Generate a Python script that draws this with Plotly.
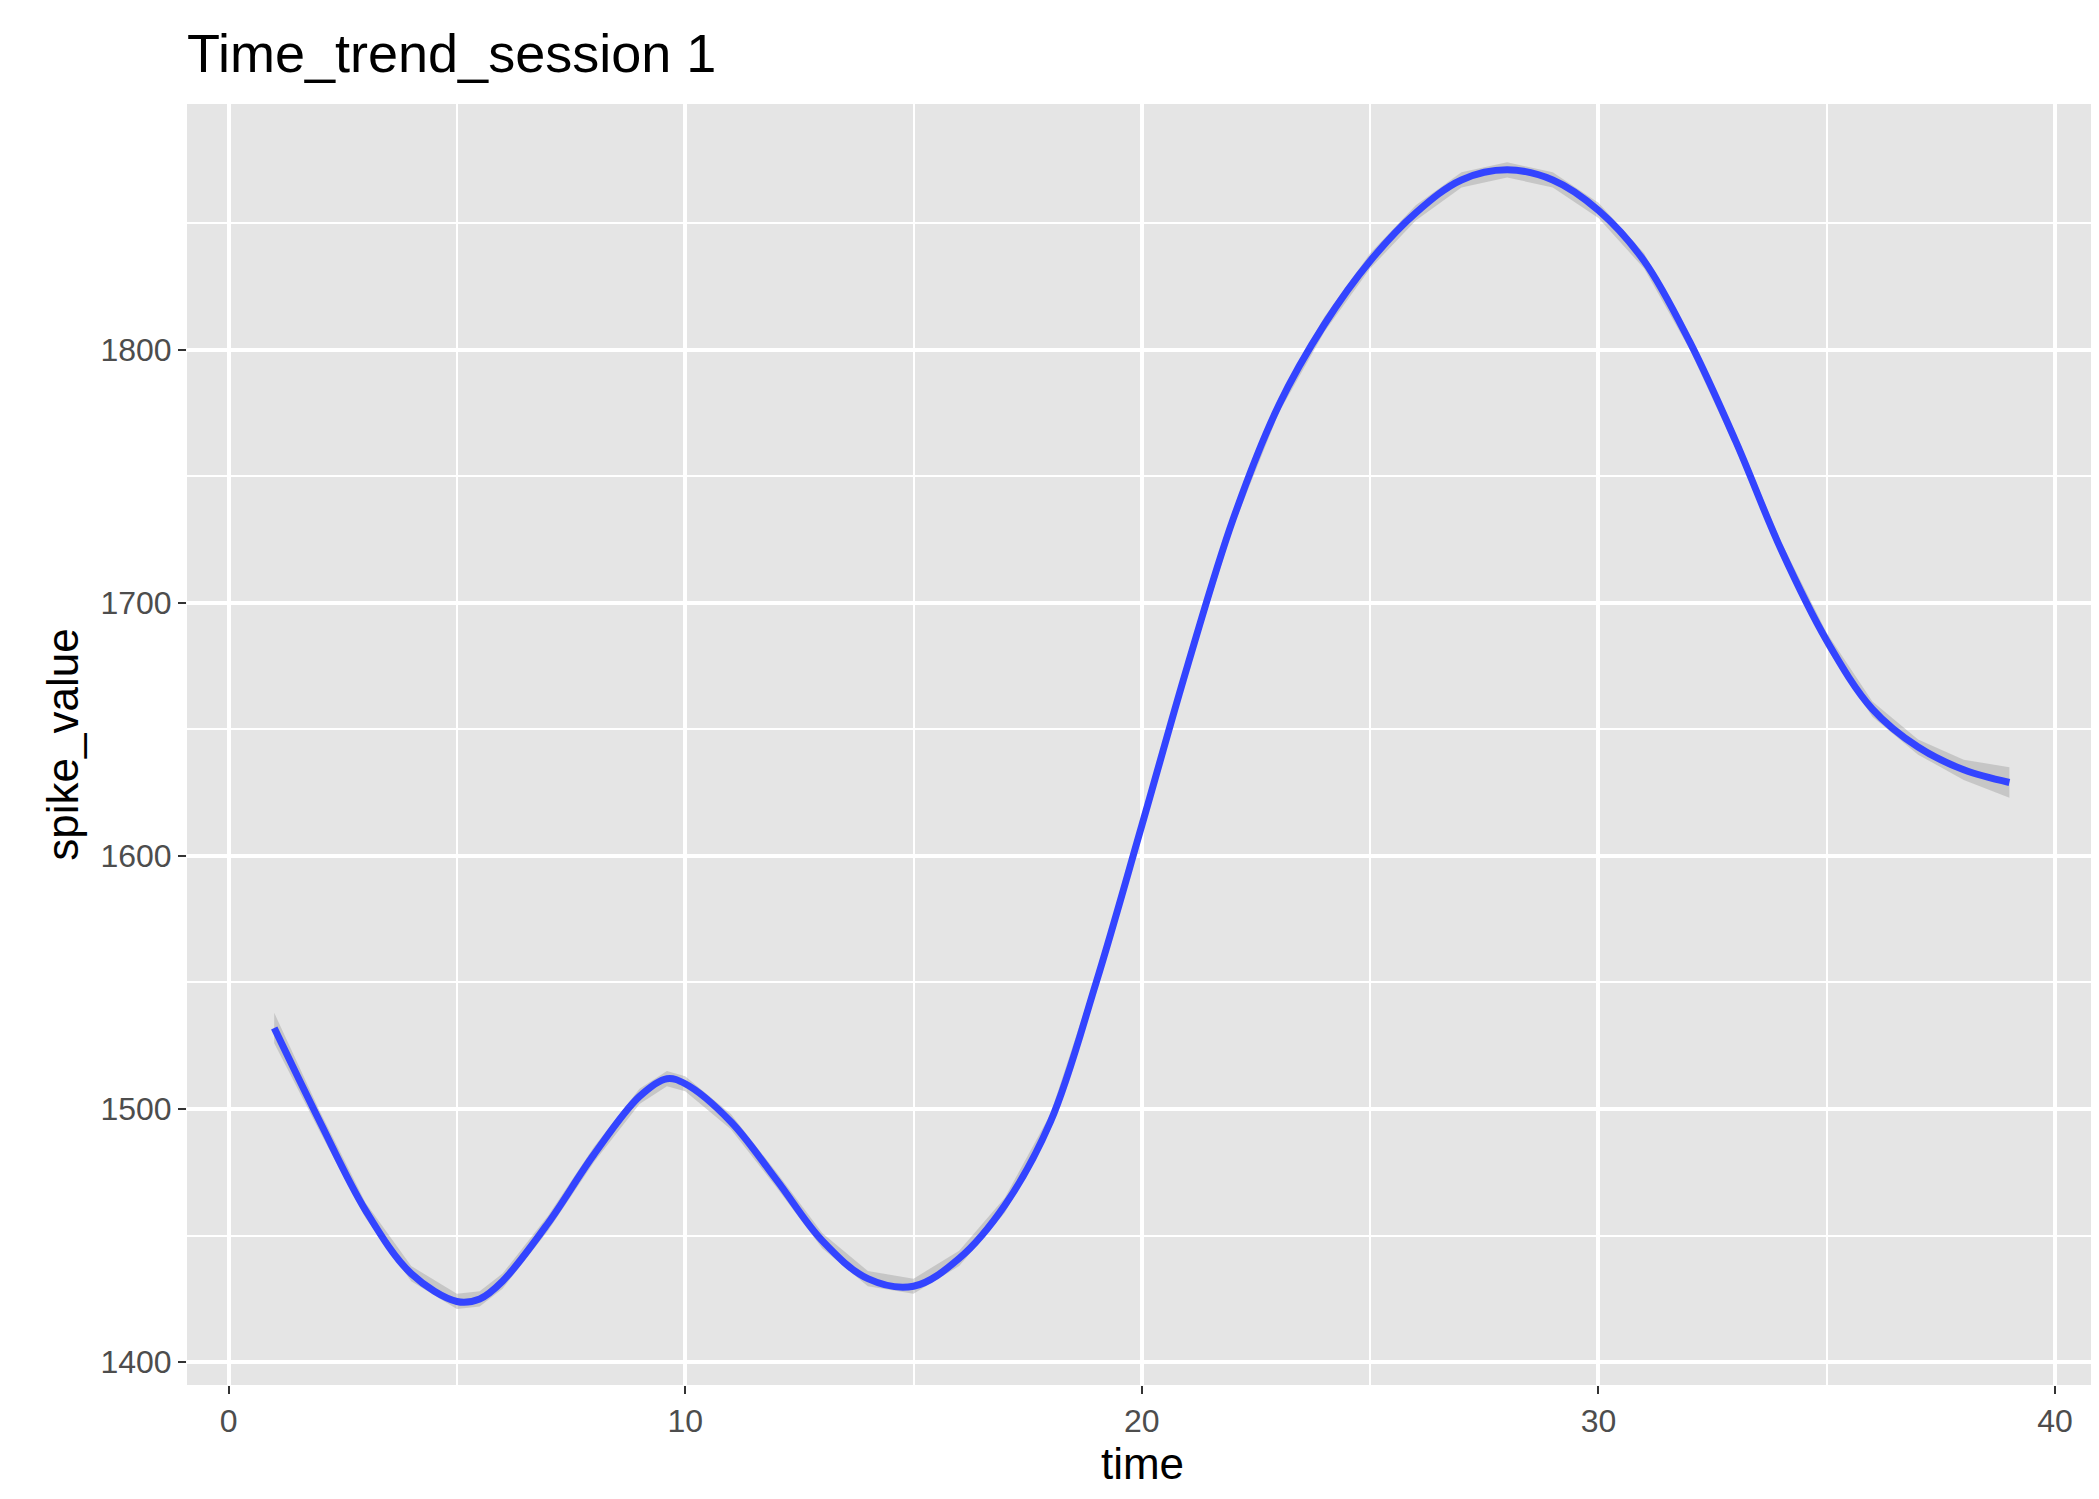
import plotly.graph_objects as go

time = [1, 2, 3, 4, 5, 5.5, 6, 7, 8, 9, 9.6, 10, 11, 12, 13, 14, 15, 16, 17, 18, 19, 20,
        21, 22, 23, 24, 25, 26, 27, 28, 29, 30, 31, 32, 33, 34, 35, 36, 37, 38, 39]
spike = [1532, 1495, 1460, 1435, 1424, 1425, 1432, 1455, 1482, 1505, 1512, 1510, 1495, 1472,
         1448, 1433, 1430, 1441, 1462, 1495, 1550, 1612, 1675, 1733, 1778, 1810, 1835, 1854,
         1867, 1871, 1867, 1855, 1835, 1803, 1764, 1721, 1685, 1658, 1643, 1634, 1629]
se = [6, 4, 3, 3, 3, 3, 3, 3, 3, 3, 3, 3, 3, 3, 3, 3, 3, 3, 3, 3, 3, 3, 3, 3, 3, 3, 3, 3,
      3, 3, 3, 3, 3, 3, 3, 3, 3, 3, 3, 4, 6]

upper = [v + s for v, s in zip(spike, se)]
lower = [v - s for v, s in zip(spike, se)]

fig = go.Figure()
fig.add_trace(go.Scatter(x=time + time[::-1], y=upper + lower[::-1], fill="toself",
                         fillcolor="rgba(153,153,153,0.4)", line=dict(width=0),
                         hoverinfo="skip", showlegend=False))
fig.add_trace(go.Scatter(x=time, y=spike, mode="lines", line=dict(color="#3344FF", width=7),
                         line_shape="spline", line_smoothing=1.0, showlegend=False))

font = "Liberation Sans, Arial, sans-serif"
fig.update_layout(
    width=2099, height=1499,
    paper_bgcolor="white", plot_bgcolor="#E5E5E5",
    margin=dict(l=179, r=9, t=96, b=122),
    font=dict(family=font, color="black"),
    title=dict(text="Time_trend_session 1", x=179/2099, xanchor="left", y=1-45/1499,
               yanchor="middle", font=dict(size=54, color="black")),
    xaxis=dict(range=[-0.91, 40.94], tickvals=[0, 10, 20, 30, 40], showgrid=True,
               gridcolor="white", gridwidth=3.5, zeroline=False,
               minor=dict(tickvals=[5, 15, 25, 35], showgrid=True, gridcolor="white", gridwidth=1.8),
               ticks="outside", ticklen=8, tickwidth=2, tickcolor="#333333",
               tickfont=dict(size=32, color="#4D4D4D"),
               title=dict(text="time", font=dict(size=44), standoff=6)),
    yaxis=dict(range=[1391, 1897], tickvals=[1400, 1500, 1600, 1700, 1800], showgrid=True,
               gridcolor="white", gridwidth=3.5, zeroline=False,
               minor=dict(tickvals=[1450, 1550, 1650, 1750, 1850], showgrid=True, gridcolor="white", gridwidth=1.8),
               ticks="outside", ticklen=8, tickwidth=2, tickcolor="#333333",
               tickfont=dict(size=32, color="#4D4D4D"),
               title=dict(text="spike_value", font=dict(size=44), standoff=8)),
)
fig.write_html("out.html")
